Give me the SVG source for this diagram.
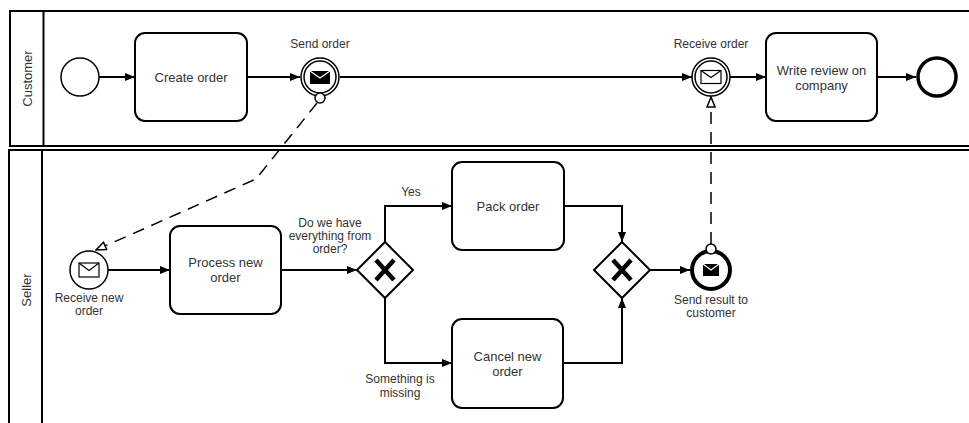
<svg xmlns="http://www.w3.org/2000/svg" width="969" height="423" viewBox="0 0 969 423">
  <style>
    .pool { fill: none; stroke: #000; stroke-width: 2; }
    .task { fill: #fff; stroke: #000; stroke-width: 2; }
    .evt { fill: #fff; stroke: #000; stroke-width: 1.5; }
    .endevt { fill: #fff; stroke: #000; stroke-width: 4; }
    .gw { fill: #fff; stroke: #000; stroke-width: 2; }
    .gx { fill: none; stroke: #000; stroke-width: 4.5; stroke-linecap: butt; }
    .flow { fill: none; stroke: #000; stroke-width: 2; marker-end: url(#arrow); }
    .msg { fill: none; stroke: #000; stroke-width: 1.5; stroke-dasharray: 12 8; marker-end: url(#msgArrow); }
    .tt { font-family: "Liberation Sans", Arial, sans-serif; font-size: 13px; fill: #333; text-anchor: middle; }
    .lb { font-family: "Liberation Sans", Arial, sans-serif; font-size: 12px; fill: #333; text-anchor: middle; }
    .lane { font-family: "Liberation Sans", Arial, sans-serif; font-size: 13px; fill: #333; text-anchor: middle; }
  </style>
  <defs>
    <marker id="arrow" viewBox="0 0 10 8" refX="10" refY="4" markerWidth="10" markerHeight="8" markerUnits="userSpaceOnUse" orient="auto">
      <path d="M0,0 L10,4 L0,8 z" fill="#000"/>
    </marker>
    <marker id="msgArrow" viewBox="0 0 12 10" refX="11" refY="5" markerWidth="12" markerHeight="10" markerUnits="userSpaceOnUse" orient="auto">
      <path d="M1,1 L11,5 L1,9 z" fill="#fff" stroke="#000" stroke-width="1.5"/>
    </marker>
  </defs>

  <!-- pools and lanes -->
  <g id="pool-customer">
    <rect class="pool" x="10" y="11" width="1000" height="135"/>
    <line class="pool" x1="43.5" y1="11" x2="43.5" y2="146"/>
    <text class="lane" transform="translate(32,78.5) rotate(-90)">Customer</text>
  </g>
  <g id="pool-seller">
    <rect class="pool" x="9" y="150" width="1000" height="300"/>
    <line class="pool" x1="42" y1="150" x2="42" y2="450"/>
    <text class="lane" transform="translate(31,290) rotate(-90)">Seller</text>
  </g>

  <!-- connectors -->
  <g id="connectors">
    <path class="flow" d="M99,77 L135,77"/>
    <path class="flow" d="M247,77 L300,77"/>
    <path class="flow" d="M340,77 L692,77"/>
    <path class="flow" d="M730,77 L766,77"/>
    <path class="flow" d="M877,77 L916,77"/>
    <path class="flow" d="M108,270 L170,270"/>
    <path class="flow" d="M281,270 L357,270"/>
    <path class="flow" d="M385,242 L385,206 L452,206"/>
    <path class="flow" d="M385,298 L385,363 L452,363"/>
    <path class="flow" d="M564,206 L622,206 L622,242"/>
    <path class="flow" d="M563,363 L622,363 L622,298"/>
    <path class="flow" d="M650,270 L690,270"/>
    <path class="msg" d="M317,103 L256,179 L96,250"/>
    <path class="msg" d="M711,244 L711,97"/>
    <text class="lb" x="411" y="196">Yes</text>
    <text class="lb" x="330" y="227">Do we have</text>
    <text class="lb" x="330" y="240">everything from</text>
    <text class="lb" x="330" y="253">order?</text>
    <text class="lb" x="400" y="383">Something is</text>
    <text class="lb" x="400" y="397">missing</text>
  </g>

  <!-- customer lane -->
  <g id="start-customer">
    <circle class="evt" cx="80" cy="77" r="19"/>
  </g>
  <g id="task-create-order">
    <rect class="task" x="135" y="33" width="112" height="88" rx="10"/>
    <text class="tt" x="191" y="81.5">Create order</text>
  </g>
  <g id="event-send-order">
    <circle class="evt" cx="320" cy="77" r="19"/>
    <circle class="evt" cx="320" cy="77" r="16"/>
    <rect x="310" y="71" width="20" height="13" fill="#000"/>
    <polyline points="310,71 320,78 330,71" fill="none" stroke="#fff" stroke-width="1.2"/>
    <circle class="evt" cx="320" cy="98" r="5"/>
    <text class="lb" x="320" y="48">Send order</text>
  </g>
  <g id="event-receive-order">
    <circle class="evt" cx="711" cy="77" r="19"/>
    <circle class="evt" cx="711" cy="77" r="16"/>
    <rect x="701" y="70.5" width="20" height="13" fill="#fff" stroke="#000" stroke-width="1.2"/>
    <polyline points="701,70.5 711,77.5 721,70.5" fill="none" stroke="#000" stroke-width="1.2"/>
    <text class="lb" x="711" y="48">Receive order</text>
  </g>
  <g id="task-write-review">
    <rect class="task" x="766" y="33" width="111" height="88" rx="10"/>
    <text class="tt" x="821.5" y="74.5">Write review on</text>
    <text class="tt" x="821.5" y="89.5">company</text>
  </g>
  <g id="end-customer">
    <circle cx="937" cy="77" r="19" fill="#fff" stroke="#000" stroke-width="3.5"/>
  </g>

  <!-- seller lane -->
  <g id="start-receive-new-order">
    <circle class="evt" cx="89" cy="270" r="19"/>
    <rect x="79" y="263" width="20" height="14" fill="#fff" stroke="#000" stroke-width="1.2"/>
    <polyline points="79,263 89,270.5 99,263" fill="none" stroke="#000" stroke-width="1.2"/>
    <text class="lb" x="89" y="302">Receive new</text>
    <text class="lb" x="89" y="315">order</text>
  </g>
  <g id="task-process-new-order">
    <rect class="task" x="170" y="226" width="111" height="88" rx="10"/>
    <text class="tt" x="225.5" y="266.5">Process new</text>
    <text class="tt" x="225.5" y="281.5">order</text>
  </g>
  <g id="gateway-split">
    <polygon class="gw" points="385,242 413,270 385,298 357,270"/>
    <path class="gx" d="M376,260 L394,280 M394,260 L376,280"/>
  </g>
  <g id="task-pack-order">
    <rect class="task" x="452" y="162" width="112" height="88" rx="10"/>
    <text class="tt" x="508" y="210.5">Pack order</text>
  </g>
  <g id="task-cancel-new-order">
    <rect class="task" x="452" y="319" width="111" height="89" rx="10"/>
    <text class="tt" x="507.5" y="360.5">Cancel new</text>
    <text class="tt" x="507.5" y="375.5">order</text>
  </g>
  <g id="gateway-merge">
    <polygon class="gw" points="622,242 650,270 622,298 594,270"/>
    <path class="gx" d="M613,260 L631,280 M631,260 L613,280"/>
  </g>
  <g id="end-send-result">
    <circle class="endevt" cx="711" cy="270" r="19"/>
    <rect x="703" y="264" width="16" height="12" fill="#000"/>
    <polyline points="703,264 711,270 719,264" fill="none" stroke="#fff" stroke-width="1.2"/>
    <circle class="evt" cx="711" cy="249" r="5"/>
    <text class="lb" x="711" y="304">Send result to</text>
    <text class="lb" x="711" y="317">customer</text>
  </g>
</svg>
